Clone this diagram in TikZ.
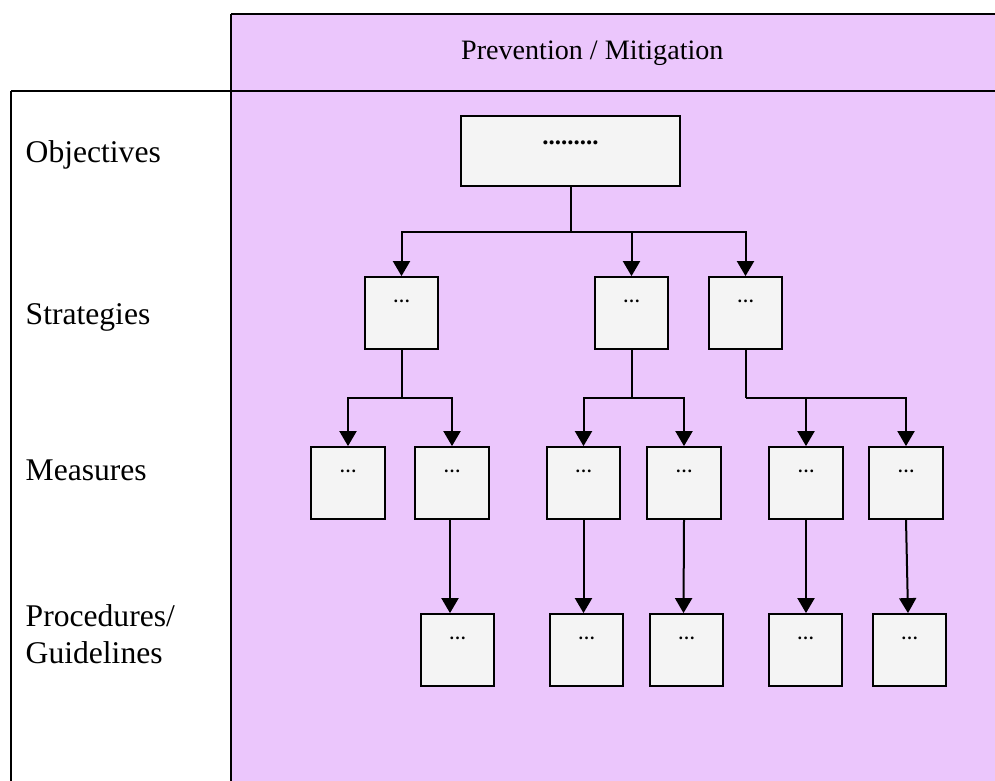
\documentclass[tikz,border=0pt]{standalone}
\usepackage{fontspec}
\setmainfont{Liberation Serif}
\usetikzlibrary{arrows.meta}
\definecolor{lilac}{RGB}{235,198,252}
\definecolor{boxgrey}{RGB}{244,244,244}
\begin{document}
\begin{tikzpicture}[x=1pt,y=-1pt,
  frame/.style={line width=2.6pt},
  rowlabel/.style={anchor=base west,inner sep=0pt,font=\fontsize{31.6}{37}\selectfont},
  card/.style={draw,line width=2.3pt,fill=boxgrey,inner sep=0pt,
    minimum width=73.5pt,minimum height=71.5pt},
  dots/.style={anchor=base,inner sep=0pt,yshift=-26.5pt,font=\fontsize{17}{19}\bfseries\selectfont},
  link/.style={line width=2pt},
  arr/.style={link,-{Triangle[width=17pt,length=15pt]}}]
\useasboundingbox (0,0) rectangle (995,781);
% table background and rules
\fill[lilac] (231,14) rectangle (995,781);
\draw[frame] (231,14) -- (996,14);
\draw[frame] (11,91) -- (996,91);
\draw[frame] (231,14) -- (231,782);
\draw[frame] (11,91) -- (11,782);
% headings
\node[anchor=base west,inner sep=0pt,font=\fontsize{28.1}{34}\selectfont] (head) at (461,60) {Prevention / Mitigation};
\node[rowlabel] (lobj) at (25.5,162) {Objectives};
\node[rowlabel] (lstr) at (25.5,324) {Strategies};
\node[rowlabel] (lmea) at (25.5,480) {Measures};
\node[rowlabel] (lpro) at (25.5,626) {Procedures/};
\node[rowlabel] (lgui) at (25.5,663) {Guidelines};
% objective
\node[card,minimum width=219pt,minimum height=70pt,
  label={[dots,yshift=-3pt,font=\fontsize{25}{28}\bfseries\selectfont]north:.........}] (top) at (570.5,151) {};
% strategies
\node[card,label={[dots]north:…}] (s1) at (401.5,313) {};
\node[card,label={[dots]north:…}] (s2) at (631.5,313) {};
\node[card,label={[dots]north:…}] (s3) at (745.5,313) {};
% measures
\node[card,label={[dots]north:…}] (m1) at (348,483) {};
\node[card,label={[dots]north:…}] (m2) at (452,483) {};
\node[card,label={[dots]north:…}] (m3) at (583.5,483) {};
\node[card,label={[dots]north:…}] (m4) at (684,483) {};
\node[card,label={[dots]north:…}] (m5) at (806,483) {};
\node[card,label={[dots]north:…}] (m6) at (906,483) {};
% procedures / guidelines
\node[card,label={[dots]north:…}] (p1) at (457.5,650) {};
\node[card,label={[dots]north:…}] (p2) at (586.5,650) {};
\node[card,label={[dots]north:…}] (p3) at (686.5,650) {};
\node[card,label={[dots]north:…}] (p4) at (805.5,650) {};
\node[card,label={[dots]north:…}] (p5) at (909.5,650) {};
% branching points
\coordinate (j0) at (top.south |- 0,232);
\coordinate (j1) at (s1.south |- 0,398);
\coordinate (j2) at (s2.south |- 0,398);
\coordinate (j3) at (s3.south |- 0,398);
% objective -> strategies
\draw[link] (top.south) -- (j0);
\draw[arr] (j0) -| (s1.north);
\draw[arr] (j0) -| (s2.north);
\draw[arr] (j0) -| (s3.north);
% strategies -> measures
\draw[link] (s1.south) -- (j1);
\draw[arr] (j1) -| (m1.north);
\draw[arr] (j1) -| (m2.north);
\draw[link] (s2.south) -- (j2);
\draw[arr] (j2) -| (m3.north);
\draw[arr] (j2) -| (m4.north);
\draw[link] (s3.south) -- (j3);
\draw[arr] (j3) -| (m5.north);
\draw[arr] (j3) -| (m6.north);
% measures -> procedures
\draw[arr] ([xshift=-2pt]m2.south) -- ([xshift=-7.5pt]p1.north);
\draw[arr] (m3.south) -- (m3.south |- p2.north);
\draw[arr] (m4.south) -- ([xshift=-3pt]p3.north);
\draw[arr] (m5.south) -- (m5.south |- p4.north);
\draw[arr] (m6.south) -- ([xshift=-1.5pt]p5.north);
\end{tikzpicture}
\end{document}
